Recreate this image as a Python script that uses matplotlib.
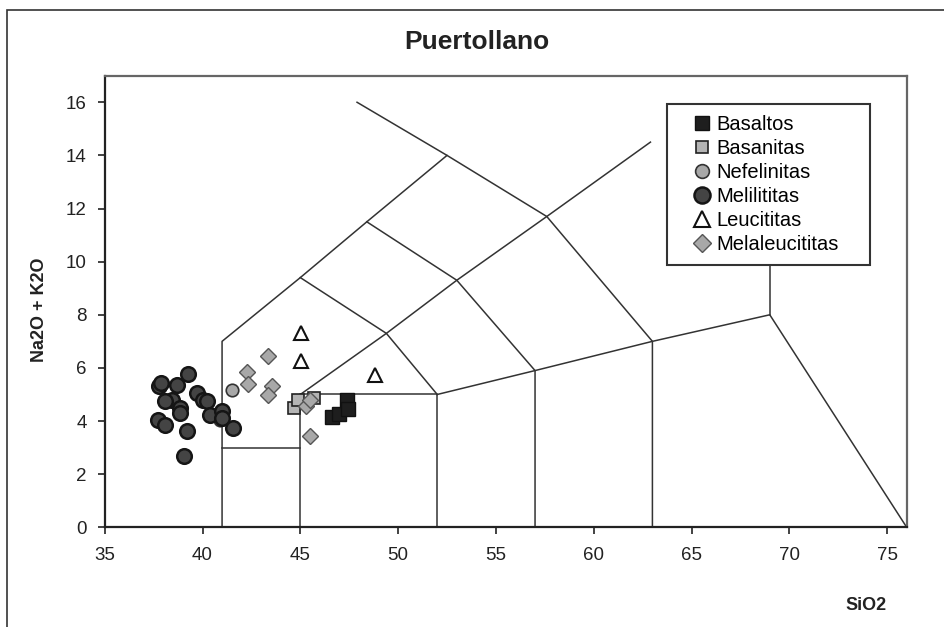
import matplotlib.pyplot as plt
from matplotlib.patches import Rectangle

plt.rcParams['font.family'] = ['Liberation Sans', 'DejaVu Sans']

# --- datos (SiO2, Na2O + K2O) ---
basaltos_x = [46.6, 47.0, 47.4, 47.45]
basaltos_y = [4.15, 4.25, 4.8, 4.45]

basanitas_x = [44.7, 44.9, 45.7]
basanitas_y = [4.5, 4.8, 4.85]

nefelinitas_x = [41.5, 40.9]
nefelinitas_y = [5.15, 4.05]

melilititas_x = [37.8, 37.86, 38.68, 39.24, 38.42, 38.08, 38.85, 38.85, 37.74,
                 38.08, 39.19, 39.07, 39.7, 40.04, 40.21, 40.38, 40.98, 40.98, 41.57]
melilititas_y = [5.33, 5.43, 5.37, 5.77, 4.8, 4.74, 4.49, 4.31, 4.05,
                 3.86, 3.61, 2.69, 5.06, 4.8, 4.74, 4.24, 4.36, 4.11, 3.74]

leucititas_x = [45.06, 45.06, 48.8]
leucititas_y = [7.3, 6.25, 5.75]

melaleucititas_x = [43.36, 42.25, 42.34, 43.53, 43.36, 45.28, 45.5, 45.49]
melaleucititas_y = [6.46, 5.83, 5.41, 5.33, 4.99, 4.55, 4.8, 3.45]

# lineas del diagrama TAS
tas_lines = [
    ([41, 41, 45, 48.4, 52.5, 47.9], [0, 7, 9.4, 11.5, 14, 16]),
    ([41, 45], [3, 3]),
    ([45, 45, 52, 52], [0, 5, 5, 0]),
    ([45, 49.4, 53, 57.6, 62.9], [5, 7.3, 9.3, 11.7, 14.5]),
    ([45, 49.4, 52], [9.4, 7.3, 5]),
    ([48.4, 53, 57, 57], [11.5, 9.3, 5.9, 0]),
    ([52.5, 57.6, 63, 63], [14, 11.7, 7, 0]),
    ([52, 57, 63, 69, 76], [5, 5.9, 7, 8, 0]),
    ([69, 69], [8, 13]),
]

fig = plt.figure(figsize=(9.44, 6.27), dpi=100)
ax = fig.add_axes([104.7 / 944, 1 - 527.3 / 627, 802 / 944, 451.6 / 627])

for xs, ys in tas_lines:
    ax.plot(xs, ys, color='#333333', lw=1.1, zorder=1)

ax.plot(basaltos_x, basaltos_y, 's', ms=9.5, mfc='#1e1e1e', mec='#111111', label='Basaltos', zorder=3)
ax.plot(basanitas_x, basanitas_y, 's', ms=8, mfc='#b4b4b4', mec='#222222', mew=1.2, label='Basanitas', zorder=3)
ax.plot(nefelinitas_x, nefelinitas_y, 'o', ms=9, mfc='#a8a8a8', mec='#333333', mew=1.2, label='Nefelinitas', zorder=3)
ax.plot(melilititas_x, melilititas_y, 'o', ms=10.5, mfc='#444444', mec='#151515', mew=1.8, label='Melilititas', zorder=4)
ax.plot(leucititas_x, leucititas_y, '^', ms=10, mfc='white', mec='#111111', mew=1.5, label='Leucititas', zorder=3)
ax.plot(melaleucititas_x, melaleucititas_y, 'D', ms=8.5, mfc='#a8a8a8', mec='#555555', mew=1.0, label='Melaleucititas', zorder=3)

ax.set_xlim(35, 76)
ax.set_ylim(0, 17)
ax.set_xticks(range(35, 80, 5))
ax.set_yticks(range(0, 18, 2))
ax.tick_params(direction='out', length=5, width=1.2, labelsize=13.5, colors='#222222')
ax.tick_params(axis='x', pad=9)
ax.tick_params(axis='y', pad=8)

for side in ['left', 'bottom']:
    ax.spines[side].set_color('#222222')
    ax.spines[side].set_linewidth(1.6)
for side in ['top', 'right']:
    ax.spines[side].set_color('#666666')
    ax.spines[side].set_linewidth(1.6)

# leyenda: caja de (667,104) a (870,262) px
leg = ax.legend(loc='upper left', mode='expand',
                bbox_to_anchor=(0.701, 0.588, 0.253, 0.349), borderaxespad=0,
                fancybox=False, framealpha=1, edgecolor='#333333', fontsize=14.5,
                handlelength=2.4, handletextpad=-0.5, labelspacing=0.25,
                borderpad=0.55, numpoints=1, markerscale=1.1)
leg.get_frame().set_linewidth(1.5)
leg.set_zorder(10)

fig.text(0.505, 1 - 42 / 627, 'Puertollano', ha='center', va='center',
         fontsize=19, fontweight='bold', color='#222222')
fig.text(40 / 944, 1 - 310 / 627, 'Na2O + K2O', ha='center', va='center',
         rotation=90, fontsize=13, fontweight='bold', color='#222222')
fig.text(866 / 944, 1 - 605 / 627, 'SiO2', ha='center', va='center',
         fontsize=13, fontweight='bold', color='#222222')

# marco exterior
fig.patches.append(Rectangle((7 / 944, -0.1), 1.2, 1.1 - 10 / 627, transform=fig.transFigure,
                             fill=False, edgecolor='#333333', lw=1.2))

fig.savefig('out.png', dpi=100)
